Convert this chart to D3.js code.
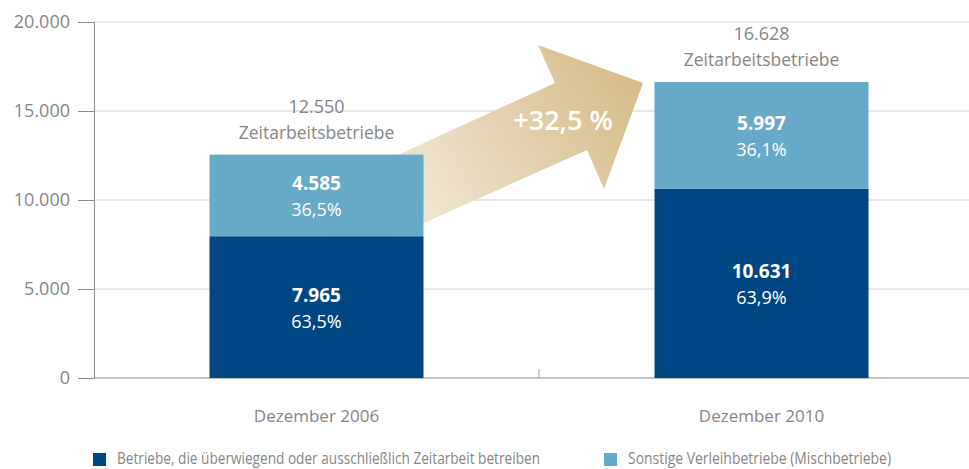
<!DOCTYPE html>
<html lang="de">
<head>
<meta charset="utf-8">
<script src="https://cdn.jsdelivr.net/npm/d3@7"></script>
<style>
  html, body { margin: 0; padding: 0; background: #fff; }
  svg { display: block; font-family: "Open Sans", "Noto Sans", sans-serif; }
</style>
</head>
<body>
<svg id="chart" width="969" height="469"></svg>
<script>
// Betriebe in der Zeitarbeit, Dezember 2006 vs. Dezember 2010
const categories = ["Dezember 2006", "Dezember 2010"];
const seriesNames = [
  "Betriebe, die überwiegend oder ausschließlich Zeitarbeit betreiben",
  "Sonstige Verleihbetriebe (Mischbetriebe)"
];
const mainBusiness = [7965, 10631];   // überwiegend / ausschließlich Zeitarbeit
const mixedBusiness = [4585, 5997];   // Mischbetriebe
const yTicks = [0, 5000, 10000, 15000, 20000];
const totalLabel = "Zeitarbeitsbetriebe";

const colors = ["#004682", "#67a9c8"];
const grey = "#868686";

const de = d3.formatLocale({ decimal: ",", thousands: ".", grouping: [3], currency: ["", " €"] });
const fmtInt = de.format(",d");
const fmtPct = de.format(".1f");

const svg = d3.select("#chart");
const plotLeft = 94, plotRight = 969, plotTop = 22, plotBottom = 378;

const x = d3.scaleBand().domain(categories).range([plotLeft, 984]).padding(0);
const y = d3.scaleLinear().domain([0, 20000]).range([plotBottom, plotTop]);
const barW = 214;

const rows = categories.map((c, i) => {
  const total = mainBusiness[i] + mixedBusiness[i];
  return { cat: c, main: mainBusiness[i], mixed: mixedBusiness[i], total };
});

// gridlines
svg.append("g")
  .selectAll("line").data(yTicks.filter(t => t > 0)).join("line")
  .attr("x1", plotLeft).attr("x2", plotRight)
  .attr("y1", d => y(d)).attr("y2", d => y(d))
  .attr("stroke", "#d2d2d2").attr("stroke-width", 1);

// y axis
const yAxis = svg.append("g")
  .attr("transform", `translate(${plotLeft},0)`)
  .call(d3.axisLeft(y).tickValues(yTicks).tickSize(16).tickPadding(8).tickFormat(d => fmtInt(d)));
yAxis.select(".domain").attr("stroke", "#8a8a8a");
yAxis.selectAll(".tick line").attr("stroke", "#8a8a8a");
yAxis.selectAll("text").attr("fill", grey).style("font-size", "18px").style("font-family", "Open Sans");

// x axis baseline with separator tick between categories
svg.append("line")
  .attr("x1", plotLeft).attr("x2", plotRight).attr("y1", plotBottom).attr("y2", plotBottom)
  .attr("stroke", "#8a8a8a").attr("stroke-width", 1.2);
svg.append("line")
  .attr("x1", x(categories[1])).attr("x2", x(categories[1]))
  .attr("y1", plotBottom).attr("y2", plotBottom - 9)
  .attr("stroke", "#a0a0a0");

// growth arrow (drawn underneath the bars)
const defs = svg.append("defs");
const grad = defs.append("linearGradient").attr("id", "arrowGrad")
  .attr("gradientUnits", "userSpaceOnUse")
  .attr("x1", 410).attr("y1", 225).attr("x2", 640).attr("y2", 85);
grad.append("stop").attr("offset", "0%").attr("stop-color", "#f1e8d6");
grad.append("stop").attr("offset", "100%").attr("stop-color", "#d5bc88");

const arrowPts = [[330, 186], [555, 83], [538, 45], [643, 83], [604, 189], [587, 150], [330, 265]];
svg.append("path")
  .attr("d", d3.line()(arrowPts) + "Z")
  .attr("fill", "url(#arrowGrad)");

const growth = (rows[1].total / rows[0].total - 1) * 100;
svg.append("text")
  .attr("x", 563).attr("y", 130)
  .attr("text-anchor", "middle")
  .attr("fill", "#fff")
  .style("font-size", "27px").style("font-weight", "600")
  .text("+" + fmtPct(growth) + " %");

// stacked bars
const g = svg.append("g");
rows.forEach((r, i) => {
  const cx = x(r.cat) + x.bandwidth() / 2;
  const x0 = cx - barW / 2;
  g.append("rect").attr("x", x0).attr("width", barW)
    .attr("y", y(r.main)).attr("height", y(0) - y(r.main)).attr("fill", colors[0]);
  g.append("rect").attr("x", x0).attr("width", barW)
    .attr("y", y(r.total)).attr("height", y(r.main) - y(r.total)).attr("fill", colors[1]);

  const segs = [[0, r.main], [r.main, r.total]];
  const vals = [r.main, r.mixed];
  segs.forEach((s, k) => {
    const mid = (y(s[0]) + y(s[1])) / 2;
    g.append("text").attr("x", cx).attr("y", mid - 5)
      .attr("text-anchor", "middle").attr("fill", "#fff")
      .style("font-size", "19px").style("font-weight", "700")
      .text(fmtInt(vals[k]));
    g.append("text").attr("x", cx).attr("y", mid + 21)
      .attr("text-anchor", "middle").attr("fill", "#fff")
      .style("font-size", "18px")
      .text(fmtPct(vals[k] / r.total * 100) + "%");
  });

  // total above the bar
  g.append("text").attr("x", cx).attr("y", y(r.total) - 42)
    .attr("text-anchor", "middle").attr("fill", grey).style("font-size", "18px")
    .text(fmtInt(r.total));
  g.append("text").attr("x", cx).attr("y", y(r.total) - 16)
    .attr("text-anchor", "middle").attr("fill", grey).style("font-size", "17.5px")
    .text(totalLabel);

  // category label
  g.append("text").attr("x", cx).attr("y", 422)
    .attr("text-anchor", "middle").attr("fill", grey).style("font-size", "17px")
    .text(r.cat);
});

// legend (narrow set, squeezed to fit one row)
const legendX = [93, 604];
const legendW = [423, 263];
seriesNames.forEach((n, i) => {
  svg.append("rect").attr("x", legendX[i]).attr("y", 453).attr("width", 13).attr("height", 13)
    .attr("fill", colors[i]);
  svg.append("text").attr("x", legendX[i] + 24).attr("y", 464)
    .attr("fill", grey).style("font-size", "17px")
    .attr("textLength", legendW[i]).attr("lengthAdjust", "spacingAndGlyphs")
    .text(n);
});
</script>
</body>
</html>
